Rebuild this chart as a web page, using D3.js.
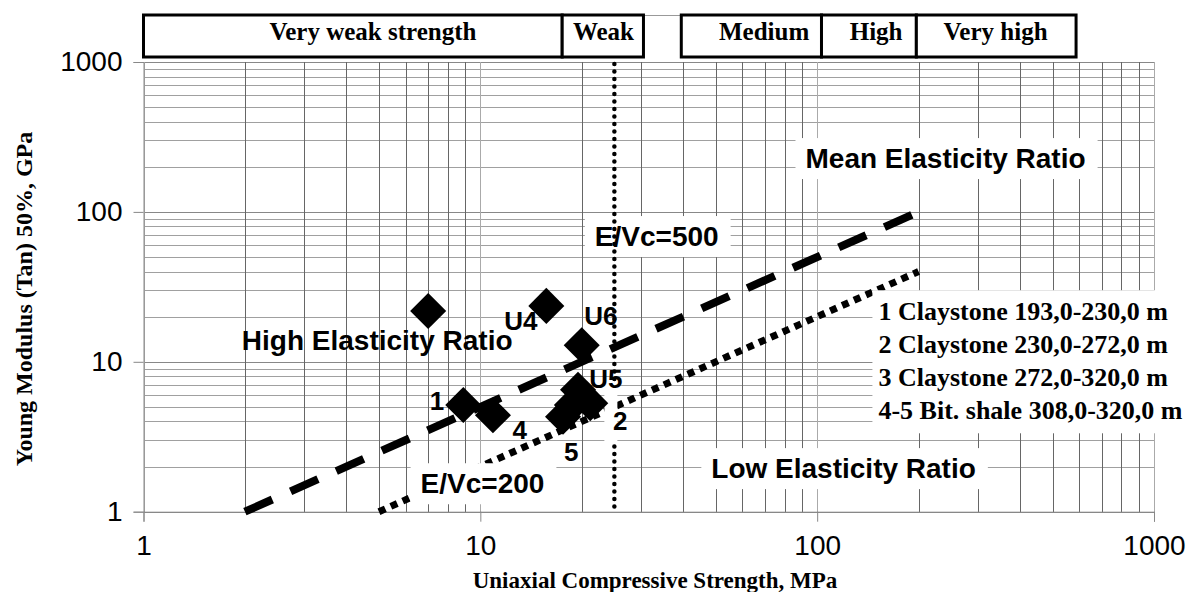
<!DOCTYPE html>
<html>
<head>
<meta charset="utf-8">
<script src="https://cdn.jsdelivr.net/npm/d3@7"></script>
<style>
	body { margin: 0; background: #fff; }
	svg { display: block; }
	.grid line { shape-rendering: crispEdges; }
	.sans { font-family: 'Liberation Sans', Arial, sans-serif; }
	.serif { font-family: 'Liberation Serif', 'Times New Roman', serif; font-weight: bold; }
</style>
</head>
<body>
<svg id="viz" width="1191" height="592"></svg>
<script>

var ucsTicks = [ 1, 10, 100, 1000 ];
var modTicks = [ 1, 10, 100, 1000 ];

// strength classes (MPa)
var classNames = [ 'Very weak strength', 'Weak', 'Medium', 'High', 'Very high' ];
var classFrom = [ 1, 17.5, 39.5, 103, 197 ];
var classTo = [ 17.5, 30.5, 103, 197, 587 ];
var classLabelAt = [ 4.8, 23.2, 69.6, 149.6, 338.6 ];

// measured samples
var pointUcs = [ 7, 15.7, 20, 8.9, 10.9, 19.5, 21.2, 17.6, 18.7 ];
var pointMod = [ 21.8, 23.6, 12.9, 5.15, 4.4, 6.5, 5.3, 4.3, 5.15 ];

var pointLabels = [ 'U4', 'U6', 'U5', '1', '4', '2', '5' ];
var pointLabelUcs = [ 13.2, 22.8, 23.6, 7.44, 13.1, 26.0, 18.6 ];
var pointLabelMod = [ 18.7, 20.2, 7.68, 5.48, 3.51, 4.03, 2.5 ];

// elasticity ratio lines E/Vc
var meanRatio = 500;
var lowRatio = 200;
var meanLineUcs = [ 2, 200 ];
var lowLineUcs = [ 5, 200 ];
var weakLimit = 25;

var zoneLabels = [ 'Mean Elasticity Ratio', 'E/Vc=500', 'High Elasticity Ratio', 'E/Vc=200', 'Low Elasticity Ratio' ];
var zoneUcs = [ 240.5, 33.4, 4.94, 10.15, 119.8 ];
var zoneMod = [ 228.9, 69.1, 13.98, 1.55, 1.956 ];
var zoneBoxed = [ true, true, false, true, true ];

var legendLines = [
	'1 Claystone 193,0-230,0 m',
	'2 Claystone 230,0-272,0 m',
	'3 Claystone 272,0-320,0 m',
	'4-5 Bit. shale 308,0-320,0 m'
];
var legendUcs = 152;
var legendMod = 30;

var padding = { top: 62, right: 37, bottom: 80.3, left: 143.5 };
var width = 1191 - padding.left - padding.right;
var height = 592 - padding.top - padding.bottom;

var svg = d3.select( '#viz' );

var x = d3.scaleLog().domain( [ 1, 1000 ] ).range( [ padding.left, padding.left + width ] );
var y = d3.scaleLog().domain( [ 1, 1000 ] ).range( [ padding.top + height, padding.top ] );

var minors = function ( ticks ) {
	var out = [];
	ticks.forEach( function ( d, i ) {
		if ( i === ticks.length - 1 ) { out.push( d ); return; }
		for ( var k = 1; k < 10; k++ ) { out.push( d * k ); }
	} );
	return out;
};

// grid
var grid = svg.append( 'g' ).classed( 'grid', true );

grid.selectAll( 'line.h' )
	.data( minors( modTicks ) )
	.enter()
	.append( 'line' )
	.attr( 'x1', x( 1 ) ).attr( 'x2', x( 1000 ) )
	.attr( 'y1', function ( d ) { return Math.round( y( d ) ) + 0.5; } )
	.attr( 'y2', function ( d ) { return Math.round( y( d ) ) + 0.5; } )
	.attr( 'stroke', function ( d ) { return modTicks.indexOf( d ) >= 0 ? '#888' : '#a0a0a0'; } );

grid.selectAll( 'line.v' )
	.data( minors( ucsTicks ) )
	.enter()
	.append( 'line' )
	.attr( 'y1', y( 1 ) ).attr( 'y2', y( 1000 ) )
	.attr( 'x1', function ( d ) { return Math.round( x( d ) ) + 0.5; } )
	.attr( 'x2', function ( d ) { return Math.round( x( d ) ) + 0.5; } )
	.attr( 'stroke', function ( d ) { return ucsTicks.indexOf( d ) >= 0 ? '#aaa' : '#666'; } );

// axes
var xAxis = d3.axisBottom( x )
	.tickValues( ucsTicks )
	.tickSize( 10 )
	.tickPadding( 13 )
	.tickFormat( d3.format( 'd' ) );

var yAxis = d3.axisLeft( y )
	.tickValues( modTicks )
	.tickSize( 10 )
	.tickPadding( 11 )
	.tickFormat( d3.format( 'd' ) );

[ [ xAxis, 'translate(0,' + ( padding.top + height ) + ')' ], [ yAxis, 'translate(' + padding.left + ',0)' ] ].forEach( function ( a ) {
	var g = svg.append( 'g' )
		.attr( 'transform', a[1] )
		.call( a[0] );
	g.select( '.domain' ).attr( 'stroke', '#888' );
	g.selectAll( '.tick line' ).attr( 'stroke', '#888' );
	g.selectAll( '.tick text' )
		.attr( 'class', 'sans' )
		.style( 'font-size', '28px' )
		.attr( 'fill', '#000' );
} );

// trend lines
var line = d3.line()
	.x( function ( d ) { return x( d[0] ); } )
	.y( function ( d ) { return y( d[1] ); } );

var trends = svg.append( 'g' );

trends.append( 'path' )
	.datum( meanLineUcs.map( function ( u ) { return [ u, u * meanRatio / 1000 ]; } ) )
	.attr( 'd', line )
	.attr( 'fill', 'none' )
	.attr( 'stroke', '#000' )
	.attr( 'stroke-width', 8 )
	.attr( 'stroke-dasharray', '30,20' );

trends.append( 'path' )
	.datum( lowLineUcs.map( function ( u ) { return [ u, u * lowRatio / 1000 ]; } ) )
	.attr( 'd', line )
	.attr( 'fill', 'none' )
	.attr( 'stroke', '#000' )
	.attr( 'stroke-width', 7 )
	.attr( 'stroke-dasharray', '7,6' );

// zone labels
var zones = svg.append( 'g' );
zoneLabels.forEach( function ( t, i ) {
	var g = zones.append( 'g' );
	var txt = g.append( 'text' )
		.attr( 'class', 'sans' )
		.attr( 'x', x( zoneUcs[i] ) )
		.attr( 'y', y( zoneMod[i] ) )
		.attr( 'dy', '0.36em' )
		.attr( 'text-anchor', 'middle' )
		.style( 'font-size', '28px' )
		.style( 'font-weight', 'bold' )
		.text( t );
	if ( zoneBoxed[i] ) {
		var b = txt.node().getBBox();
		g.insert( 'rect', 'text' )
			.attr( 'x', b.x - 10 )
			.attr( 'y', b.y - 5 )
			.attr( 'width', b.width + 22 )
			.attr( 'height', b.height + 10 )
			.attr( 'fill', '#fff' );
	}
} );

// weak / medium boundary
svg.append( 'line' )
	.attr( 'x1', x( weakLimit ) ).attr( 'x2', x( weakLimit ) )
	.attr( 'y1', y( 1000 ) + 2 ).attr( 'y2', y( 1 ) )
	.attr( 'stroke', '#000' )
	.attr( 'stroke-width', 4.5 )
	.attr( 'stroke-linecap', 'round' )
	.attr( 'stroke-dasharray', '0,7.5' );

// gap left by the "2" label
svg.append( 'rect' )
	.attr( 'x', x( weakLimit ) - 10 )
	.attr( 'y', y( 7.2 ) )
	.attr( 'width', 13 )
	.attr( 'height', y( 2.9 ) - y( 7.2 ) )
	.attr( 'fill', '#fff' );

// samples
svg.append( 'g' )
	.selectAll( 'path' )
	.data( pointUcs )
	.enter()
	.append( 'path' )
	.attr( 'd', d3.symbol( d3.symbolSquare, 650 ) )
	.attr( 'transform', function ( d, i ) {
		return 'translate(' + x( d ) + ',' + y( pointMod[i] ) + ') rotate(45)';
	} )
	.attr( 'fill', '#000' );

svg.append( 'g' )
	.selectAll( 'text' )
	.data( pointLabels )
	.enter()
	.append( 'text' )
	.attr( 'class', 'sans' )
	.attr( 'x', function ( d, i ) { return x( pointLabelUcs[i] ); } )
	.attr( 'y', function ( d, i ) { return y( pointLabelMod[i] ); } )
	.attr( 'dy', '0.36em' )
	.attr( 'text-anchor', 'middle' )
	.style( 'font-size', '26px' )
	.style( 'font-weight', 'bold' )
	.text( function ( d ) { return d; } );

// legend
var legendTop = y( legendMod );
svg.append( 'rect' )
	.attr( 'x', x( legendUcs ) - 6 )
	.attr( 'y', legendTop )
	.attr( 'width', 1191 - x( legendUcs ) + 6 )
	.attr( 'height', 143 )
	.attr( 'fill', '#fff' );

svg.append( 'g' )
	.selectAll( 'text' )
	.data( legendLines )
	.enter()
	.append( 'text' )
	.attr( 'class', 'serif' )
	.attr( 'x', x( legendUcs ) )
	.attr( 'y', function ( d, i ) { return legendTop + 30 + i * 33; } )
	.style( 'font-size', '26px' )
	.text( function ( d ) { return d; } );

// strength class boxes
svg.append( 'line' )
	.attr( 'x1', x( classTo[1] ) ).attr( 'x2', x( classFrom[2] ) )
	.attr( 'y1', 15.5 ).attr( 'y2', 15.5 )
	.attr( 'stroke', '#999' );

var boxes = svg.append( 'g' );
classNames.forEach( function ( name, i ) {
	boxes.append( 'rect' )
		.attr( 'x', x( classFrom[i] ) )
		.attr( 'y', 15 )
		.attr( 'width', x( classTo[i] ) - x( classFrom[i] ) )
		.attr( 'height', 42 )
		.attr( 'fill', '#fff' )
		.attr( 'stroke', '#000' )
		.attr( 'stroke-width', 3 );
	boxes.append( 'text' )
		.attr( 'class', 'serif' )
		.attr( 'x', x( classLabelAt[i] ) )
		.attr( 'y', 40 )
		.attr( 'text-anchor', 'middle' )
		.style( 'font-size', '25px' )
		.text( name );
} );

// axis titles
svg.append( 'text' )
	.attr( 'class', 'serif' )
	.attr( 'x', 655 )
	.attr( 'y', 588 )
	.attr( 'text-anchor', 'middle' )
	.style( 'font-size', '23px' )
	.text( 'Uniaxial Compressive Strength, MPa' );

svg.append( 'text' )
	.attr( 'class', 'serif' )
	.attr( 'transform', 'translate(32,299) rotate(-90)' )
	.attr( 'text-anchor', 'middle' )
	.style( 'font-size', '24px' )
	.text( 'Young Modulus (Tan) 50%, GPa' );

</script>
</body>
</html>
